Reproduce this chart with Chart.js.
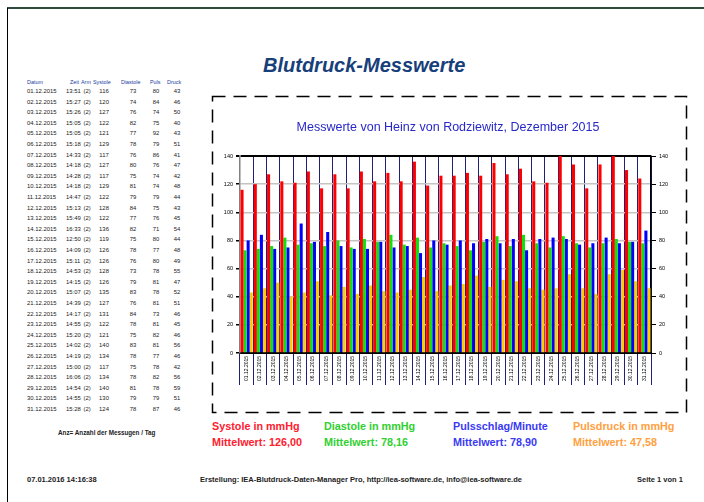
<!DOCTYPE html>
<html>
<head>
<meta charset="utf-8">
<script src="https://cdn.jsdelivr.net/npm/chart.js@4.4.0/dist/chart.umd.min.js"></script>
<style>
  body { margin: 0; background: #fff; font-family: "Liberation Sans", Arial, sans-serif; }
  #page { position: relative; width: 704px; height: 502px; overflow: hidden; }
  .abs { position: absolute; white-space: nowrap; line-height: 1; }
  .tbl { font-size: 5.9px; color: #1a1a1a; }
  .hdr { font-size: 5.4px; color: #2040a0; }
  .leg { font-size: 10.8px; font-weight: bold; }
  .foot { font-size: 7.5px; font-weight: bold; color: #222; }
</style>
</head>
<body>
<div id="page">
  <div class="abs" style="left:7px;top:7px;width:697px;height:2px;background:#2d4a3a;"></div>
  <div class="abs" style="left:7px;top:8px;width:1px;height:494px;background:#000;"></div>

  <div class="abs" style="left:263px;top:55px;font-size:20px;font-weight:bold;font-style:italic;color:#17407a;">Blutdruck-Messwerte</div>

  <div id="table"></div>

  <div class="abs foot" style="left:58px;top:430px;font-size:6.3px;">Anz= Anzahl der Messugen / Tag</div>

  <svg class="abs" style="left:0;top:0;" width="704" height="502">
    <rect x="212.5" y="96.5" width="474" height="316" fill="none" stroke="#000" stroke-width="1.5" stroke-dasharray="13,8"/>
  </svg>

  <canvas id="chart" class="abs" style="left:214px;top:108px;" width="468" height="290"></canvas>

  <div class="abs leg" style="left:212px;top:421px;color:#ff2030;">Systole in mmHg</div>
  <div class="abs leg" style="left:212px;top:437px;color:#ff2030;">Mittelwert: 126,00</div>
  <div class="abs leg" style="left:324px;top:421px;color:#30d030;">Diastole in mmHg</div>
  <div class="abs leg" style="left:324px;top:437px;color:#30d030;">Mittelwert: 78,16</div>
  <div class="abs leg" style="left:453px;top:421px;color:#3a3af5;">Pulsschlag/Minute</div>
  <div class="abs leg" style="left:453px;top:437px;color:#3a3af5;">Mittelwert: 78,90</div>
  <div class="abs leg" style="left:573px;top:421px;color:#ffa040;">Pulsdruck in mmHg</div>
  <div class="abs leg" style="left:573px;top:437px;color:#ffa040;">Mittelwert: 47,58</div>

  <div class="abs foot" style="left:27px;top:476px;">07.01.2016 14:16:38</div>
  <div class="abs foot" style="left:200px;top:476px;">Erstellung: IEA-Blutdruck-Daten-Manager Pro, http://iea-software.de, info@iea-software.de</div>
  <div class="abs foot" style="left:637px;top:476px;">Seite 1 von 1</div>
</div>

<script>
const dates = ['01.12.2015','02.12.2015','03.12.2015','04.12.2015','05.12.2015','06.12.2015','07.12.2015','08.12.2015','09.12.2015','10.12.2015',
  '11.12.2015','12.12.2015','13.12.2015','14.12.2015','15.12.2015','16.12.2015','17.12.2015','18.12.2015','19.12.2015','20.12.2015',
  '21.12.2015','22.12.2015','23.12.2015','24.12.2015','25.12.2015','26.12.2015','27.12.2015','28.12.2015','29.12.2015','30.12.2015','31.12.2015'];
const times = ['13:51','15:27','15:26','15:05','15:05','15:18','14:33','14:18','14:28','14:18',
  '14:47','15:13','15:49','16:33','12:50','14:09','15:11','14:53','14:15','15:07',
  '14:39','14:17','14:55','15:20','14:02','14:19','15:00','16:06','14:54','14:55','15:28'];
const systole = [116,120,127,122,121,129,117,127,117,129,122,128,122,136,119,126,126,128,126,135,127,131,122,121,140,134,117,134,140,130,124];
const diastole = [73,74,76,82,77,78,76,80,75,81,79,84,77,82,75,78,76,73,79,83,76,84,78,75,83,78,75,78,81,79,78];
const puls = [80,84,74,75,92,79,86,76,74,74,79,75,76,71,80,77,80,78,81,78,81,73,81,82,81,77,78,82,78,79,87];
const druck = [43,46,50,40,43,51,41,47,42,48,44,43,45,54,44,48,49,55,47,52,51,46,45,46,56,46,42,56,59,51,46];
const yTicks = [0,20,40,60,80,100,120,140];

// Tabelle links
const table = document.getElementById('table');
function put(text, left, top, cls, align) {
  const d = document.createElement('div');
  d.className = 'abs ' + cls;
  d.textContent = text;
  d.style.top = top + 'px';
  if (align === 'c') { d.style.left = (left - 20) + 'px'; d.style.width = '40px'; d.style.textAlign = 'center'; }
  else if (align === 'r') { d.style.left = (left - 40) + 'px'; d.style.width = '40px'; d.style.textAlign = 'right'; }
  else d.style.left = left + 'px';
  table.appendChild(d);
}
put('Datum', 27, 80, 'hdr');
put('Zeit', 79, 80, 'hdr', 'r');
put('Arm', 81, 80, 'hdr');
put('Systole', 93, 80, 'hdr');
put('Diastole', 121, 80, 'hdr');
put('Puls', 150, 80, 'hdr');
put('Druck', 167, 80, 'hdr');
for (let i = 0; i < dates.length; i++) {
  const y = 89 + i * 10.6;
  put(dates[i], 27, y, 'tbl');
  put(times[i], 66, y, 'tbl');
  put('(2)', 83.5, y, 'tbl');
  put(systole[i], 104, y, 'tbl', 'c');
  put(diastole[i], 133, y, 'tbl', 'c');
  put(puls[i], 156, y, 'tbl', 'c');
  put(druck[i], 177, y, 'tbl', 'c');
}

const tickFont = { family: '"Liberation Sans", Arial', size: 5.5 };

new Chart(document.getElementById('chart'), {
  type: 'bar',
  data: {
    labels: dates,
    datasets: [
      { label: 'Systole', data: systole, backgroundColor: '#ff0000' },
      { label: 'Diastole', data: diastole, backgroundColor: '#10e010' },
      { label: 'Puls', data: puls, backgroundColor: '#0000ff' },
      { label: 'Pulsdruck', data: druck, backgroundColor: '#ffcc00' }
    ]
  },
  options: {
    responsive: false,
    animation: false,
    devicePixelRatio: 1,
    layout: { padding: 0 },
    datasets: { bar: { categoryPercentage: 0.92, barPercentage: 1.0 } },
    plugins: {
      legend: { display: false },
      tooltip: { enabled: false },
      title: {
        display: true,
        text: 'Messwerte von Heinz von Rodziewitz, Dezember 2015',
        color: '#2828c8',
        font: { family: '"Liberation Sans", Arial', size: 12.5, weight: 'normal' },
        padding: { top: 12, bottom: 21 }
      }
    },
    scales: {
      x: {
        grid: { offset: true, color: '#202078', lineWidth: 1, tickLength: 32, tickColor: '#202078' },
        border: { color: '#000', width: 2 },
        ticks: { font: { family: '"Liberation Sans", Arial', size: 5 }, color: '#000', minRotation: 90, maxRotation: 90, padding: -29, autoSkip: false },
        afterFit: s => { s.height = 45; }
      },
      y: {
        min: 0, max: 140,
        afterBuildTicks: s => { s.ticks = yTicks.map(v => ({ value: v })); },
        grid: {
          color: c => c.tick && c.tick.value === 140 ? '#000' : '#c4c4c4',
          lineWidth: c => c.tick && c.tick.value === 140 ? 2 : 1.5,
          tickColor: '#000', tickLength: 4
        },
        border: { color: '#808080', width: 1.5 },
        ticks: { font: tickFont, color: '#000', padding: 3 },
        afterFit: s => { s.width = 26; }
      },
      y2: {
        position: 'right',
        min: 0, max: 140,
        afterBuildTicks: s => { s.ticks = yTicks.map(v => ({ value: v })); },
        grid: { drawOnChartArea: false, tickColor: '#000', tickLength: 5 },
        border: { color: '#000', width: 1.5 },
        ticks: { font: tickFont, color: '#000', padding: 3 },
        afterFit: s => { s.width = 31; }
      }
    }
  }
});
</script>
</body>
</html>
